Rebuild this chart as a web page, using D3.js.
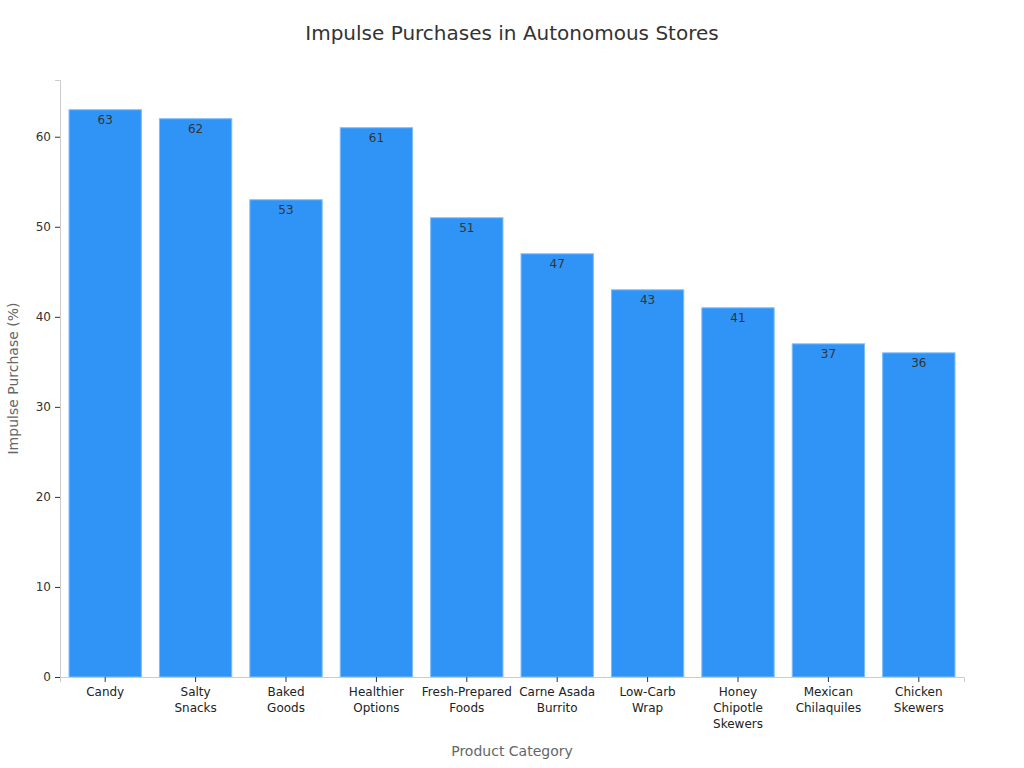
<!DOCTYPE html>
<html>
<head>
<meta charset="utf-8">
<script src="https://cdn.jsdelivr.net/npm/d3@7"></script>
<style>
  body { margin: 0; background: #fff; font-family: "DejaVu Sans", sans-serif; }
</style>
</head>
<body>
<svg id="chart" width="1024" height="768"></svg>
<script>
const categories = [
  ["Candy"], ["Salty", "Snacks"], ["Baked", "Goods"], ["Healthier", "Options"],
  ["Fresh-Prepared", "Foods"], ["Carne Asada", "Burrito"], ["Low-Carb", "Wrap"],
  ["Honey", "Chipotle", "Skewers"], ["Mexican", "Chilaquiles"], ["Chicken", "Skewers"]
];
const values = [63, 62, 53, 61, 51, 47, 43, 41, 37, 36];
const yTicks = [0, 10, 20, 30, 40, 50, 60];

const svg = d3.select('#chart');
const margin = {top: 80, right: 60, bottom: 91, left: 60};
const width = 1024 - margin.left - margin.right;
const height = 768 - margin.top - margin.bottom;
const g = svg.append('g').attr('transform', `translate(${margin.left},${margin.top})`);

const keys = categories.map(d => d.join(' '));
const x = d3.scaleBand().domain(keys).range([0, width]).paddingInner(0.2).paddingOuter(0.1);
const y = d3.scaleLinear().domain([0, 66.3]).range([height, 0]);

// Title
svg.append('text')
  .attr('x', 512).attr('y', 40)
  .attr('text-anchor', 'middle')
  .style('font-size', '20px').style('fill', '#333')
  .text('Impulse Purchases in Autonomous Stores');

// Bars
g.selectAll('.bar')
  .data(values)
  .enter().append('rect')
  .attr('x', (d, i) => x(keys[i]))
  .attr('y', d => y(d))
  .attr('width', x.bandwidth())
  .attr('height', d => height - y(d))
  .attr('fill', '#3094f7')
  .attr('stroke', '#7fbcf9')
  .attr('stroke-width', 1);

// Value labels
g.selectAll('.val')
  .data(values)
  .enter().append('text')
  .attr('x', (d, i) => x(keys[i]) + x.bandwidth() / 2)
  .attr('y', d => y(d) + 14)
  .attr('text-anchor', 'middle')
  .style('font-size', '12px').style('fill', '#333')
  .text(d => d);

// Y axis
const yAxis = g.append('g').call(d3.axisLeft(y).tickValues(yTicks).tickSize(5).tickPadding(4));
yAxis.select('.domain').attr('stroke', '#ccc');
yAxis.selectAll('.tick line').attr('stroke', '#333');
yAxis.selectAll('.tick text').style('font-size', '12px').style('fill', '#333').style('font-family', 'DejaVu Sans');

// X axis
const xAxis = g.append('g').attr('transform', `translate(0,${height})`)
  .call(d3.axisBottom(x).tickSize(5).tickFormat(''));
xAxis.select('.domain').attr('stroke', '#ccc');
xAxis.selectAll('.tick line').attr('stroke', '#333');
xAxis.selectAll('.tick').each(function(d, i) {
  const t = d3.select(this).append('text')
    .attr('text-anchor', 'middle')
    .style('font-size', '12px').style('fill', '#222').style('font-family', 'DejaVu Sans');
  categories[i].forEach((line, j) => {
    t.append('tspan').attr('x', 0).attr('y', 19 + j * 16).text(line);
  });
});

// Axis labels
svg.append('text')
  .attr('x', 512).attr('y', 756)
  .attr('text-anchor', 'middle')
  .style('font-size', '14px').style('fill', '#666')
  .text('Product Category');

svg.append('text')
  .attr('transform', 'rotate(-90)')
  .attr('x', -(margin.top + height / 2)).attr('y', 18)
  .attr('text-anchor', 'middle')
  .style('font-size', '14px').style('fill', '#666')
  .text('Impulse Purchase (%)');
</script>
</body>
</html>
